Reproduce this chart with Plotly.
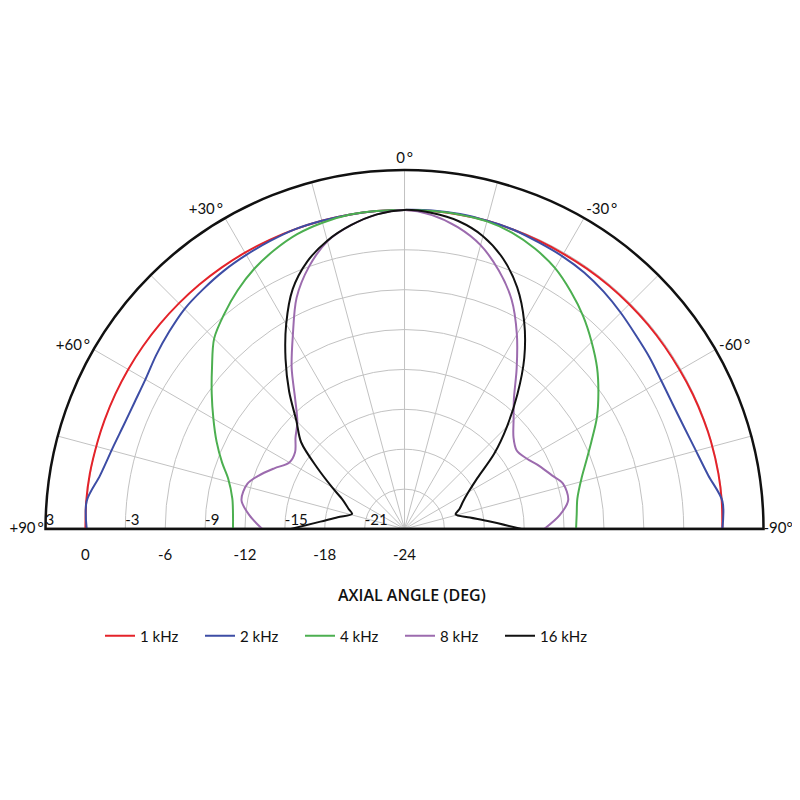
import plotly.graph_objects as go

# Angles (deg): + on the left, - on the right, 0 on axis
THETA = [-90, -85, -80, -74, -70, -65, -60, -55, -50, -45, -40, -35, -30, -25, -20, -15, -10, -5,
         0, 5, 10, 15, 20, 25, 30, 35, 40, 45, 50, 55, 60, 65, 70, 74, 80, 85, 90]

# Relative level (dB) per frequency
DB_1K = [-0.1, -0.05, -0.03, -0.03, -0.05, -0.07, -0.1, -0.1, -0.1, -0.1, -0.1, -0.1, -0.1, -0.08, -0.05, 0.0, 0.0, 0.0,
         0.0, 0.0, 0.0, 0.0, 0.0, 0.0, 0.0, 0.0, 0.0, 0.0, 0.0, 0.0, 0.0, 0.0, 0.0, 0.0, 0.03, 0.03, 0.0]
DB_2K = [-0.1, 0.0, -0.8, -1.38, -1.62, -1.75, -1.7, -1.5, -1.3, -1.0, -0.7, -0.45, -0.3, -0.2, -0.05, 0.0, 0.05, 0.05,
         0.0, 0.0, 0.0, 0.0, 0.0, -0.1, -0.2, -0.3, -0.45, -0.6, -0.9, -1.2, -1.5, -1.57, -1.47, -1.25, -0.75, 0.0, -0.1]
DB_4K = [-11.1, -11.0, -10.8, -10.15, -9.5, -8.5, -7.3, -6.2, -5.1, -4.1, -3.1, -2.2, -1.35, -0.75, -0.3, -0.05, 0.0, 0.0,
         0.0, 0.0, 0.0, -0.15, -0.4, -0.85, -1.4, -2.1, -2.9, -3.75, -5.1, -6.3, -7.4, -8.4, -9.4, -10.2, -10.85, -11.05, -11.1]
DB_8K = [-13.5, -12.3, -11.5, -11.6, -12.2, -12.8, -13.4, -13.7, -13.3, -12.4, -11.2, -9.3, -7.1, -4.95, -3.3, -1.9, -0.95, -0.3,
         0.0, -0.25, -0.8, -1.6, -3.0, -4.8, -7.2, -9.2, -11.2, -12.6, -13.3, -13.95, -14.0, -13.2, -12.3, -11.7, -11.55, -12.3, -13.3]
DB_16K = [-15.2, -17.55, -19.0, -20.0, -19.6, -19.15, -18.45, -17.3, -15.2, -13.1, -10.8, -8.3, -6.0, -3.95, -2.35, -1.2, -0.5, -0.15,
          0.0, -0.25, -0.8, -1.55, -2.6, -4.1, -6.2, -8.4, -10.5, -12.5, -13.85, -16.0, -17.7, -18.9, -19.5, -19.9, -18.9, -17.65, -15.45]

SERIES = [
    ("1 kHz", DB_1K, "#E4232A"),
    ("2 kHz", DB_2K, "#3D4DA5"),
    ("4 kHz", DB_4K, "#4CAF50"),
    ("8 kHz", DB_8K, "#9C6BAE"),
    ("16 kHz", DB_16K, "#111111"),
]

ANGLE_TICKS = [-90, -75, -60, -45, -30, -15, 0, 15, 30, 45, 60, 75, 90]
ANGLE_TEXT = ["", "", "-60\u2009°", "", "-30\u2009°", "", "0\u2009°", "",
              "+30\u2009°", "", "+60\u2009°", "", ""]
EDGE_THETA = [90, -90]
EDGE_TEXT = ["+90\u2009°\u2009", "-90°"]
RING_TICKS = [-21, -18, -15, -12, -9, -6, -3, 0]
LABELS_UP = [3, -3, -9, -15, -21]
LABELS_DOWN = [0, -6, -12, -18, -24]

FONT = "Lato, 'Open Sans', sans-serif"
GRID = "#C2C2C2"

fig = go.Figure()

# baseline across the diameter
fig.add_trace(go.Scatterpolar(
    r=[3, -24, 3], theta=[90, 0, -90], mode="lines",
    line=dict(color="#111111", width=2.5),
    showlegend=False, hoverinfo="skip",
))

for name, vals, color in SERIES:
    fig.add_trace(go.Scatterpolar(
        r=vals, theta=THETA, mode="lines", name=name,
        line=dict(color=color, width=2, shape="spline", smoothing=0.9),
    ))

# radial level labels along the left baseline, alternating above / below
fig.add_trace(go.Scatterpolar(
    r=LABELS_UP, theta=[90] * len(LABELS_UP), mode="text",
    text=[str(v) for v in LABELS_UP], textposition="top right",
    textfont=dict(size=15, color="#111111", family=FONT),
    cliponaxis=False, showlegend=False, hoverinfo="skip",
))
fig.add_trace(go.Scatterpolar(
    r=LABELS_DOWN, theta=[90] * len(LABELS_DOWN), mode="text",
    text=["<br>" + str(v) for v in LABELS_DOWN], textposition="bottom center",
    textfont=dict(size=15, color="#111111", family=FONT),
    cliponaxis=False, showlegend=False, hoverinfo="skip",
))

# +90 / -90 angle labels at the ends of the baseline
fig.add_trace(go.Scatterpolar(
    r=[3, 3], theta=EDGE_THETA, mode="text",
    text=EDGE_TEXT, textposition=["middle left", "middle right"],
    textfont=dict(size=15, color="#111111", family=FONT),
    cliponaxis=False, showlegend=False, hoverinfo="skip",
))

fig.update_layout(
    width=800, height=800,
    paper_bgcolor="white",
    margin=dict(l=0, r=0, t=0, b=0),
    font=dict(family=FONT, color="#111111", size=14),
    polar=dict(
        domain=dict(x=[0.0469, 0.9444], y=[0.34875, 0.7975]),
        sector=[0, 180],
        bgcolor="white",
        angularaxis=dict(
            rotation=90, direction="counterclockwise",
            tickmode="array", tickvals=ANGLE_TICKS, ticktext=ANGLE_TEXT,
            ticks="", showline=True, linecolor="#111111", linewidth=2.5,
            gridcolor=GRID, gridwidth=1.2,
            tickfont=dict(size=15, color="#111111", family=FONT),
        ),
        radialaxis=dict(
            range=[-24, 3], tickmode="array", tickvals=RING_TICKS,
            showticklabels=False, ticks="", showline=False,
            gridcolor=GRID, gridwidth=1.2,
        ),
    ),
    showlegend=True,
    legend=dict(
        orientation="h", x=0.115, y=0.215, xanchor="left", yanchor="middle",
        font=dict(size=15, color="#111111", family=FONT),
        entrywidth=55, itemwidth=30,
    ),
    annotations=[dict(
        text="AXIAL ANGLE (DEG)", x=0.505, y=0.25, xref="paper", yref="paper",
        showarrow=False,
        font=dict(size=16, color="#111111", family="'Open Sans', sans-serif", weight=600),
    )],
)

fig.write_html("out.html")
